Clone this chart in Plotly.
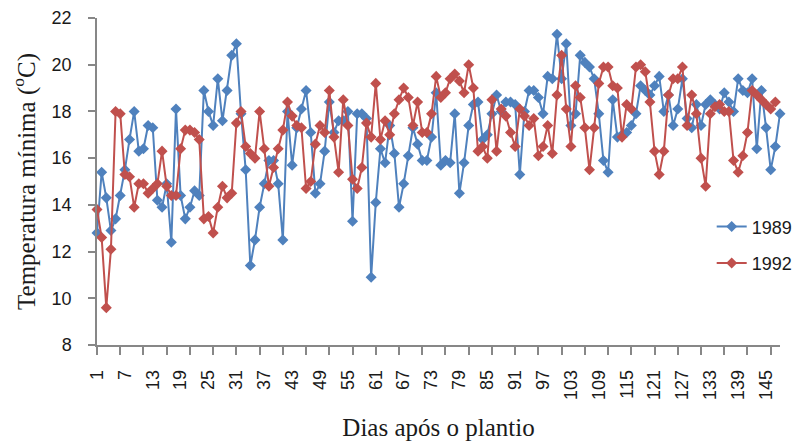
import plotly.graph_objects as go

days_1989 = list(range(1, 149))
temp_1989 = [12.8, 15.4, 14.3, 12.9, 13.4, 14.4, 15.5, 16.8, 18.0, 16.3,
             16.4, 17.4, 17.3, 14.2, 13.9, 14.9, 12.4, 18.1, 14.4, 13.4,
             13.9, 14.6, 14.4, 18.9, 18.0, 17.4, 19.4, 17.6, 18.9, 20.4,
             20.9, 17.9, 15.5, 11.4, 12.5, 13.9, 14.9, 15.9, 15.9, 14.9,
             12.5, 18.0, 15.7, 17.3, 18.1, 18.9, 17.1, 14.5, 14.9, 16.3,
             18.4, 17.1, 17.6, 17.6, 18.0, 13.3, 17.9, 17.9, 17.7, 10.9,
             14.1, 16.4, 15.8, 17.4, 16.2, 13.9, 14.9, 16.1, 17.3, 16.6,
             15.9, 15.9, 16.9, 18.8, 15.7, 15.9, 15.8, 17.9, 14.5, 15.8,
             17.4, 18.3, 18.4, 16.8, 17.0, 17.9, 18.7, 18.0, 18.4, 18.4,
             18.3, 15.3, 18.0, 18.9, 18.9, 18.6, 17.9, 19.5, 19.4, 21.3,
             19.4, 20.9, 17.4, 17.9, 20.4, 20.1, 19.9, 19.4, 17.9, 15.9,
             15.4, 18.5, 16.9, 17.0, 17.1, 17.4, 17.9, 19.1, 18.9, 18.7,
             19.1, 19.5, 18.0, 18.7, 17.4, 18.1, 19.4, 17.7, 17.3, 18.3,
             17.4, 18.3, 18.5, 18.3, 18.1, 18.8, 18.4, 18.0, 19.4, 18.9,
             18.8, 19.4, 16.4, 18.9, 17.3, 15.5, 16.5, 17.9]

days_1992 = list(range(1, 148))
temp_1992 = [13.8, 12.6, 9.6, 12.1, 18.0, 17.9, 15.3, 15.2, 13.9, 14.9,
             14.9, 14.5, 14.7, 14.9, 16.3, 14.8, 14.4, 14.4, 16.4, 17.2,
             17.2, 17.1, 16.8, 13.4, 13.5, 12.8, 13.9, 14.8, 14.3, 14.5,
             17.5, 18.0, 16.5, 16.2, 16.0, 18.0, 16.4, 14.8, 15.6, 16.4,
             17.2, 18.4, 17.8, 17.4, 17.3, 14.7, 15.0, 16.6, 17.4, 17.1,
             18.9, 16.9, 15.4, 18.5, 17.4, 15.1, 14.7, 15.6, 17.5, 16.9,
             19.2, 16.8, 17.6, 17.0, 17.9, 18.5, 19.0, 18.6, 17.4, 18.4,
             17.1, 17.1, 17.9, 19.5, 18.6, 18.8, 19.4, 19.6, 19.3, 18.8,
             20.0, 19.0, 16.3, 16.5, 16.0, 18.5, 16.3, 18.1, 17.8, 17.1,
             16.5, 18.1, 17.8, 17.4, 17.7, 16.1, 16.5, 17.4, 16.2, 18.7,
             20.4, 18.1, 16.5, 19.1, 18.6, 17.3, 15.5, 17.3, 19.2, 19.9,
             19.9, 19.1, 19.0, 16.9, 18.3, 18.1, 19.9, 20.0, 19.7, 18.4,
             16.3, 15.3, 16.3, 18.7, 19.4, 19.4, 19.9, 17.4, 18.7, 17.9,
             16.0, 14.8, 17.9, 18.2, 18.3, 18.0, 18.0, 15.9, 15.4, 16.1,
             17.1, 18.9, 18.7, 18.5, 18.3, 18.1, 18.4]

x_label_vals = list(range(1, 146, 6))
x_tick_marks = list(range(1, 147, 5))
y_tick_vals = list(range(8, 23, 2))

BLUE = "#4F81BD"
RED = "#C0504D"
AXIS = "#878787"
TICKFONT = dict(family="Liberation Sans, Arial, sans-serif", size=18, color="#1a1a1a")
TITLEFONT = dict(family="Liberation Serif, Times New Roman, serif", size=25, color="#1a1a1a")

fig = go.Figure()
fig.add_trace(go.Scatter(
    x=days_1989, y=temp_1989, name="1989", mode="lines+markers",
    line=dict(color=BLUE, width=2),
    marker=dict(symbol="diamond", size=8.5, color=BLUE),
    cliponaxis=False, legendgroup="a"))
fig.add_trace(go.Scatter(
    x=days_1992, y=temp_1992, name="1992", mode="lines+markers",
    line=dict(color=RED, width=2),
    marker=dict(symbol="diamond", size=8.5, color=RED),
    cliponaxis=False, legendgroup="b"))

fig.update_layout(
    width=796, height=435,
    margin=dict(l=89, r=24, t=10, b=98, autoexpand=False),
    plot_bgcolor="white", paper_bgcolor="white",
    showlegend=True,
    legend=dict(x=0.9, y=0.418, xanchor="left", yanchor="top",
                font=dict(family="Liberation Sans, Arial, sans-serif", size=18, color="#1a1a1a"),
                traceorder="grouped", tracegroupgap=10,
                bgcolor="rgba(0,0,0,0)"),
    xaxis=dict(
        range=[1, 148], showgrid=False, zeroline=False, automargin=False,
        showline=True, linecolor=AXIS, linewidth=1.5,
        tickmode="array", tickvals=x_label_vals,
        ticktext=[str(v) for v in x_label_vals],
        ticks="outside", ticklen=8, tickcolor="rgba(0,0,0,0)",
        tickangle=-90, tickfont=TICKFONT, ticklabelstandoff=8,
        minor=dict(tickmode="array", tickvals=x_tick_marks, ticks="outside",
                   ticklen=8, tickcolor=AXIS, tickwidth=1.5, showgrid=False),
        title=dict(text="Dias após o plantio", font=TITLEFONT, standoff=20),
    ),
    yaxis=dict(
        range=[8, 22], showgrid=False, zeroline=False, automargin=False,
        showline=True, linecolor=AXIS, linewidth=1.5,
        tickmode="array", tickvals=y_tick_vals,
        ticks="outside", ticklen=7, tickcolor=AXIS, tickwidth=1.5,
        tickfont=TICKFONT, ticklabelstandoff=13,
        title=dict(text="Temperatura mínima (<sup>o</sup>C)", font=TITLEFONT, standoff=14),
    ),
)

fig.write_html("out.html")
